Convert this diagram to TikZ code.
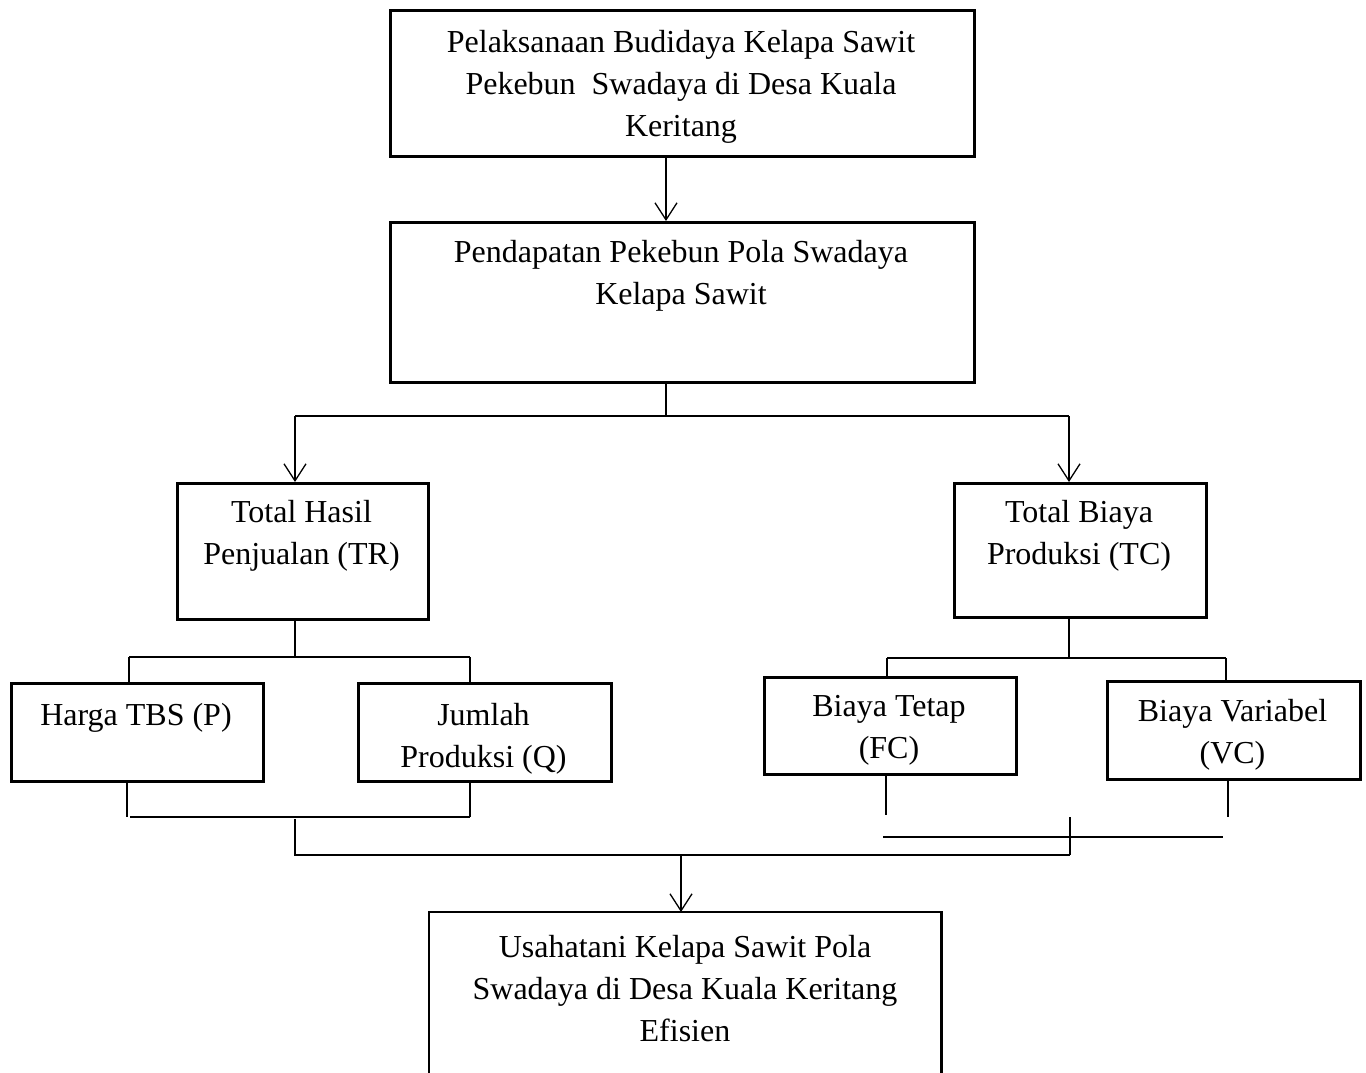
\documentclass[tikz,border=0pt]{standalone}
\usepackage{fontspec}
\setmainfont{Liberation Serif}
\usetikzlibrary{arrows.meta}
\begin{document}
\begin{tikzpicture}[x=1pt,y=-1pt,
  box/.style={draw,line width=2.6pt,anchor=north west,inner sep=0pt},
  txt/.style={align=center,inner sep=0pt,font=\fontsize{32}{42}\selectfont},
  conn/.style={line width=1.3pt},
  arr/.style={line width=1.3pt,-{Straight Barb[length=17pt,width=22pt,line width=1.3pt]}}]
\useasboundingbox (0,0) rectangle (1366,1072);
% boxes
\node[box,minimum width=584pt,minimum height=146pt] (b1) at (389,9) {};
\node[box,minimum width=584pt,minimum height=160pt] (b2) at (389,221) {};
\node[box,minimum width=251pt,minimum height=136pt] (b3) at (176,482) {};
\node[box,minimum width=252pt,minimum height=134pt] (b4) at (953,482) {};
\node[box,minimum width=252pt,minimum height=98pt] (b5) at (10,682) {};
\node[box,minimum width=253pt,minimum height=98pt] (b6) at (357,682) {};
\node[box,minimum width=252pt,minimum height=97pt] (b7) at (763,676) {};
\node[box,minimum width=253pt,minimum height=98pt] (b8) at (1106,680) {};
\node[inner sep=0pt,anchor=north west,minimum width=512pt,minimum height=170pt] (b9) at (429,912) {};
\draw[line width=2.6pt] (b9.south west) -- (b9.north west) -- (b9.north east) -- (b9.south east);
% texts
\node[txt] (t1) at (681,87) {Pelaksanaan Budidaya Kelapa Sawit\\Pekebun\ \ Swadaya di Desa Kuala\\Keritang};
\node[txt] (t2) at (681,276) {Pendapatan Pekebun Pola Swadaya\\Kelapa Sawit};
\node[txt] (t3) at (301.5,536) {Total Hasil\\Penjualan (TR)};
\node[txt] (t4) at (1079,536) {Total Biaya\\Produksi (TC)};
\node[txt] (t5) at (136,718) {Harga TBS (P)};
\node[txt] (t6) at (483.5,738.5) {Jumlah\\Produksi (Q)};
\node[txt] (t7) at (889,730) {Biaya Tetap\\(FC)};
\node[txt] (t8) at (1232.5,734.5) {Biaya Variabel\\(VC)};
\node[txt] (t9) at (685,989) {Usahatani Kelapa Sawit Pola\\Swadaya di Desa Kuala Keritang\\Efisien};
% junction coordinates
\coordinate (a1) at (666,416);
\coordinate (l1) at (295,416);
\coordinate (r1) at (1069,416);
\coordinate (l2) at (295,657);
\coordinate (l2a) at (129,657);
\coordinate (l2b) at (470,657);
\coordinate (r2) at (1069,658);
\coordinate (r2a) at (887,658);
\coordinate (r2b) at (1226,658);
\coordinate (l3a) at (127,817);
\coordinate (l3a2) at (130,817);
\coordinate (l3b) at (470,817);
\coordinate (r3a) at (886,815);
\coordinate (r3b) at (1228,817);
\coordinate (r3h1) at (883,837);
\coordinate (r3h2) at (1223,837);
\coordinate (r3t) at (1070,817);
\coordinate (m1) at (295,819);
\coordinate (m2) at (295,855);
\coordinate (m3) at (1070,855);
\coordinate (m4) at (681,855);
% connectors
\draw[arr] (b1.south -| a1) -- (b2.north -| a1);
\draw[conn] (b2.south -| a1) -- (a1);
\draw[conn] (l1) -- (r1);
\draw[arr] (l1) -- (b3.north -| l1);
\draw[arr] (r1) -- (b4.north -| r1);
\draw[conn] (b3.south -| l2) -- (l2);
\draw[conn] (l2a) -- (l2b);
\draw[conn] (l2a) -- (b5.north -| l2a);
\draw[conn] (l2b) -- (b6.north -| l2b);
\draw[conn] (b4.south -| r2) -- (r2);
\draw[conn] (r2a) -- (r2b);
\draw[conn] (r2a) -- (b7.north -| r2a);
\draw[conn] (r2b) -- (b8.north -| r2b);
\draw[conn] (b5.south -| l3a) -- (l3a);
\draw[conn] (b6.south -| l3b) -- (l3b);
\draw[conn] (l3a2) -- (l3b);
\draw[conn] (b7.south -| r3a) -- (r3a);
\draw[conn] (b8.south -| r3b) -- (r3b);
\draw[conn] (r3h1) -- (r3h2);
\draw[conn] (r3t) -- (m3);
\draw[conn] (m1) -- (m2) -- (m3);
\draw[arr] (m4) -- (b9.north -| m4);
\end{tikzpicture}
\end{document}
